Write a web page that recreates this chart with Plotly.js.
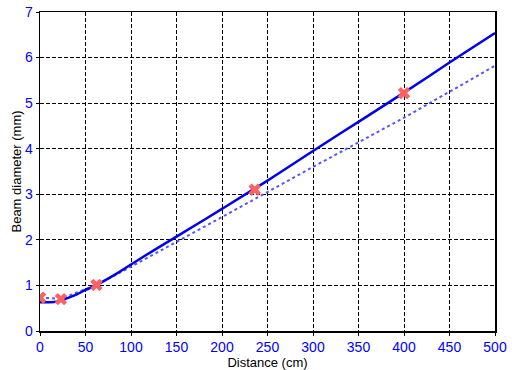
<!DOCTYPE html>
<html>
<head>
<script src="https://cdn.plot.ly/plotly-3.0.1.min.js"></script>
<style>html,body{margin:0;padding:0;background:#fff}#chart{width:512px;height:370px}</style>
</head>
<body>
<div id="chart"></div>
<script>
// Fitted beam (solid)
const fitX = [0, 10, 18, 25, 30, 40, 50, 62, 80, 100, 125, 150, 200, 250, 300, 350, 400, 450, 500];
const fitY = [0.63, 0.63, 0.64, 0.68, 0.72, 0.80, 0.90, 1.01, 1.21, 1.46, 1.77, 2.07, 2.68, 3.30, 3.95, 4.59, 5.23, 5.89, 6.54];
// Dotted line
const dotX = [0, 23, 62, 100, 200, 300, 400, 500];
const dotY = [0.73, 0.71, 1.01, 1.41, 2.50, 3.60, 4.68, 5.82];
// Measured points
const measX = [0, 23, 62, 236, 400];
const measY = [0.73, 0.70, 1.01, 3.10, 5.22];

const traces = [
  {x: dotX, y: dotY, mode: 'lines', line: {color: '#5555ff', width: 2, dash: 'dot'}, hoverinfo: 'none'},
  {x: fitX, y: fitY, mode: 'lines', line: {color: '#0000ee', width: 2.5, shape: 'spline'}, hoverinfo: 'none'},
  {x: measX, y: measY, mode: 'markers', marker: {symbol: 'x', color: '#ff6060', size: 11, line: {width: 0}}, hoverinfo: 'none'}
];

const axisCommon = {
  showline: true, linecolor: '#000', linewidth: 1.5, mirror: true,
  showgrid: true, gridcolor: '#000', griddash: '4px,2px', gridwidth: 1,
  ticks: 'outside', ticklen: 3, tickcolor: '#000',
  tickfont: {family: 'Liberation Sans, Arial, sans-serif', size: 14, color: '#0000ff'},
  zeroline: false
};

const layout = {
  width: 512, height: 370,
  margin: {l: 40, r: 17, t: 12, b: 39},
  paper_bgcolor: '#fff', plot_bgcolor: '#fff',
  showlegend: false,
  xaxis: Object.assign({}, axisCommon, {
    range: [0, 500], dtick: 50,
    title: {text: 'Distance (cm)', font: {family: 'Liberation Sans, Arial, sans-serif', size: 13, color: '#000'}, standoff: 0}
  }),
  yaxis: Object.assign({}, axisCommon, {
    range: [0, 7], dtick: 1,
    title: {text: 'Beam diameter (mm)', font: {family: 'Liberation Sans, Arial, sans-serif', size: 13, color: '#000'}, standoff: 0}
  })
};

Plotly.newPlot('chart', traces, layout, {staticPlot: true, displayModeBar: false});
</script>
</body>
</html>
